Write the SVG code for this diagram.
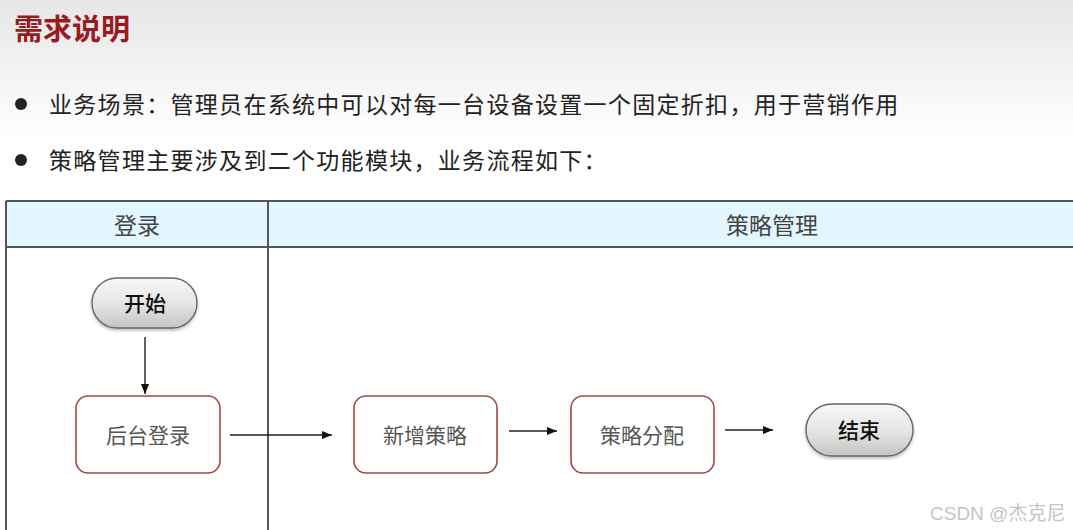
<svg xmlns="http://www.w3.org/2000/svg" width="1073" height="530" viewBox="0 0 1073 530">
<defs>
<linearGradient id="bg" x1="0" y1="0" x2="0" y2="1">
<stop offset="0" stop-color="#e6e6e6"/>
<stop offset="1" stop-color="#ffffff"/>
</linearGradient>
<linearGradient id="pill" x1="0" y1="0" x2="0" y2="1">
<stop offset="0" stop-color="#f7f7f7"/>
<stop offset="0.5" stop-color="#e6e6e6"/>
<stop offset="1" stop-color="#c4c4c4"/>
</linearGradient>
<marker id="arr" viewBox="0 0 10 10" refX="10" refY="5" markerWidth="10" markerHeight="10" markerUnits="userSpaceOnUse" orient="auto">
<path d="M0,1 L10,5 L0,9 z" fill="#111"/>
</marker>
<filter id="sh" x="-20%" y="-20%" width="140%" height="150%">
<feDropShadow dx="0" dy="2" stdDeviation="1.5" flood-color="#000" flood-opacity="0.25"/>
</filter>
</defs>
<style>
.cjk{font-family:"Noto Sans CJK SC","Liberation Sans",sans-serif}
.box{fill:#fff;stroke:#a04848;stroke-width:1.6}
.pill{fill:url(#pill);stroke:#666;stroke-width:1.4}
.lbl{font-size:21px;fill:#555;text-anchor:middle;dominant-baseline:central}
.plbl{font-size:21px;fill:#111;text-anchor:middle;dominant-baseline:central;font-weight:500}
.body{font-size:23px;fill:#222;letter-spacing:1.3px}
.hdr{font-size:23px;fill:#444;text-anchor:middle;dominant-baseline:central}
.conn{stroke:#222;stroke-width:1.4;fill:none;marker-end:url(#arr)}
</style>
<rect x="0" y="0" width="1073" height="530" fill="#fff"/>
<rect x="0" y="0" width="1073" height="140" fill="url(#bg)"/>
<text x="14" y="40" class="cjk" font-size="29" font-weight="bold" fill="#9a1b1f">需求说明</text>
<circle cx="21" cy="104" r="6" fill="#222"/>
<text x="49" y="113" class="cjk body">业务场景：管理员在系统中可以对每一台设备设置一个固定折扣，用于营销作用</text>
<circle cx="21" cy="160" r="6" fill="#222"/>
<text x="49" y="169" class="cjk body">策略管理主要涉及到二个功能模块，业务流程如下：</text>
<g id="lanes">
<rect x="6" y="201" width="1080" height="46" fill="#e1f6fe"/>
<path d="M6,201 H1073 M6,247 H1073 M6,201 V530 M268,201 V530" stroke="#555" stroke-width="2" fill="none"/>
<text x="137" y="224" class="cjk hdr">登录</text>
<text x="772" y="224" class="cjk hdr">策略管理</text>
</g>
<g id="connectors">
<line x1="145" y1="337" x2="145" y2="394" class="conn"/>
<line x1="230" y1="435" x2="332" y2="435" class="conn"/>
<line x1="509" y1="431" x2="557" y2="431" class="conn"/>
<line x1="725" y1="430" x2="773" y2="430" class="conn"/>
</g>
<g id="start">
<rect x="92" y="278" width="105" height="50" rx="25" class="pill" filter="url(#sh)"/>
<text x="145" y="302" class="cjk plbl">开始</text>
</g>
<g id="login">
<rect x="76" y="396" width="144" height="77" rx="12" class="box"/>
<text x="148" y="434" class="cjk lbl">后台登录</text>
</g>
<g id="add">
<rect x="354" y="396" width="143" height="77" rx="12" class="box"/>
<text x="425" y="434" class="cjk lbl">新增策略</text>
</g>
<g id="assign">
<rect x="571" y="396" width="143" height="77" rx="12" class="box"/>
<text x="642" y="434" class="cjk lbl">策略分配</text>
</g>
<g id="end">
<rect x="806" y="404" width="107" height="52" rx="26" class="pill" filter="url(#sh)"/>
<text x="859" y="429" class="cjk plbl">结束</text>
</g>
<text x="930" y="520" font-family="Liberation Sans,'Noto Sans CJK SC',sans-serif" font-size="19" fill="#c4c4c4">CSDN @杰克尼</text>
</svg>
